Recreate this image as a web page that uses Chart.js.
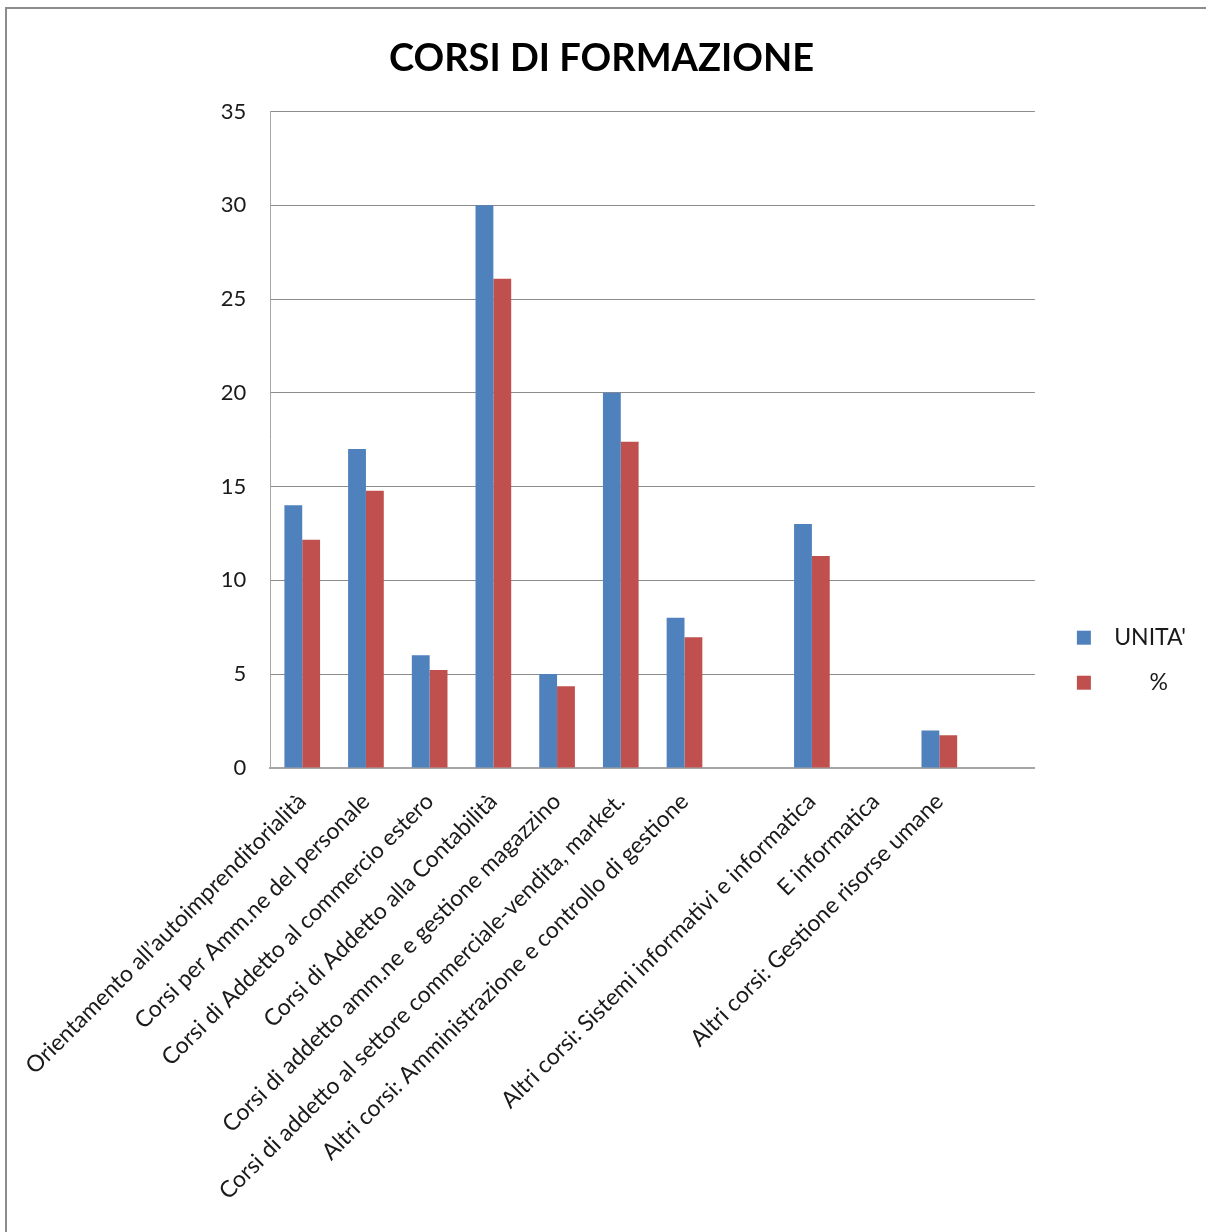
<!DOCTYPE html>
<html>
<head>
<meta charset="utf-8">
<script src="https://cdn.jsdelivr.net/npm/chart.js@4"></script>
<style>
  body { margin: 0; background: #fff; }
  #wrap { position: absolute; left: 5px; top: 7px; width: 1201px; height: 1225px;
          border-left: 2px solid #8c8c8c; border-top: 2px solid #8c8c8c; }
</style>
</head>
<body>
<div id="wrap"><canvas id="myChart"></canvas></div>
<script>
const ctx = document.getElementById("myChart");

/* input values */
var categories = [
  "Orientamento all\u2019autoimprenditorialità",
  "Corsi per Amm.ne del personale",
  "Corsi di Addetto al commercio estero",
  "Corsi di Addetto alla Contabilità",
  "Corsi di addetto amm.ne e gestione magazzino",
  "Corsi di addetto al settore commerciale-vendita, market.",
  "Altri corsi: Amministrazione e controllo di gestione",
  "",
  "Altri corsi: Sistemi informativi e informatica",
  "E informatica",
  "Altri corsi: Gestione risorse umane",
  ""
];
var unita = [14, 17, 6, 30, 5, 20, 8, null, 13, null, 2, null];
var perc = [12.17, 14.78, 5.22, 26.09, 4.35, 17.39, 6.96, null, 11.30, null, 1.74, null];
var yTicks = [0, 5, 10, 15, 20, 25, 30, 35];

Chart.defaults.font.family = "Lato";
Chart.defaults.color = "#1a1a1a";

/* bar chart */
new Chart(ctx, {
  type: "bar",
  data: {
    labels: categories,
    datasets: [
      { label: "  UNITA'", data: unita, backgroundColor: "#4F81BD" },
      { label: "        %", data: perc, backgroundColor: "#C0504D" }
    ]
  },
  options: {
    responsive: true,
    maintainAspectRatio: false,
    animation: false,
    layout: { padding: { left: 0, right: 12, top: 0, bottom: 17 } },
    plugins: {
      title: {
        display: true,
        text: "CORSI DI FORMAZIONE",
        color: "#000",
        font: { size: 38, weight: "bold" },
        padding: { top: 27, bottom: 30 }
      },
      legend: {
        position: "right",
        title: { display: true, text: " ", padding: { top: 40, bottom: 40 } },
        labels: { boxWidth: 14, boxHeight: 14, padding: 22, font: { size: 23 } }
      },
      tooltip: { enabled: false }
    },
    datasets: { bar: { categoryPercentage: 0.56, barPercentage: 1 } },
    scales: {
      x: {
        grid: { display: false },
        border: { display: true, color: "#a6a6a6", width: 2 },
        ticks: { autoSkip: false, maxRotation: 45, minRotation: 45, padding: 12, font: { size: 23 } }
      },
      y: {
        min: 0,
        max: 35,
        afterBuildTicks: function (axis) {
          axis.ticks = yTicks.map(function (v) { return { value: v }; });
        },
        afterFit: function (axis) { axis.width = 259; },
        grid: { color: "#8c8c8c", drawTicks: false },
        border: { display: true, color: "#a6a6a6", width: 1 },
        ticks: { padding: 24, font: { size: 22 } }
      },
      /* empty gap between plot and legend */
      gap: {
        position: "right",
        grid: { display: false, drawTicks: false },
        border: { display: false },
        ticks: { display: false },
        afterFit: function (axis) { axis.width = 20; }
      }
    }
  }
});
</script>
</body>
</html>
